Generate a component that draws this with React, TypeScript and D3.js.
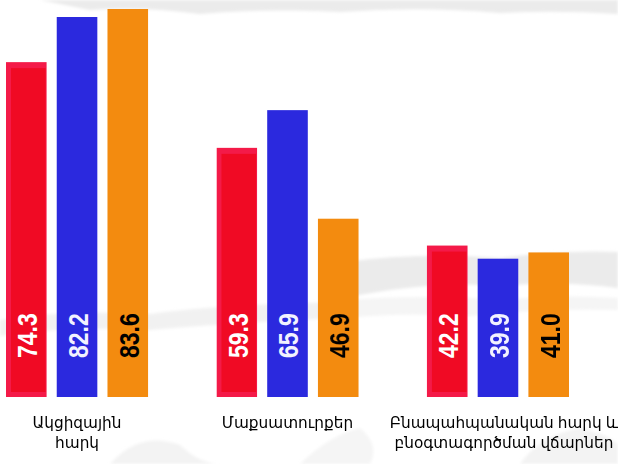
import React from "react";
import * as d3 from "d3";

const categories = ["Ակցիզային հարկ", "Մաքսատուրքեր", "Բնապահպանական հարկ և բնօգտագործման վճարներ"];
const categoryLines = [
  ["Ակցիզային", "հարկ"],
  ["Մաքսատուրքեր"],
  ["Բնապահպանական հարկ և", "բնօգտագործման վճարներ"],
];
const seriesKeys = ["s1", "s2", "s3"];
const series1 = [74.3, 59.3, 42.2];
const series2 = [82.2, 65.9, 39.9];
const series3 = [83.6, 46.9, 41.0];
const seriesValues = [series1, series2, series3];

const W = 618;
const H = 464;
const baseY = 397;
const topY = 9;

const colors = ["#f00a24", "#2b29de", "#f38b0f"];
const labelColors = ["#ffffff", "#f2f2ff", "#000000"];

export default function App() {
  const x0 = d3.scaleBand().domain(categories).range([6, 569]).paddingInner(0.325).paddingOuter(0);
  const x1 = d3.scaleBand().domain(seriesKeys).range([0, x0.bandwidth()]).paddingInner(0.2);
  const y = d3.scaleLinear().domain([15.7, 83.6]).range([baseY, topY]);

  const tex = "#ebebeb";

  return (
    <svg width={W} height={H} style={{ position: "absolute", left: 0, top: 0, background: "#fff" }}>
      <defs>
        <filter id="soft" x="-10%" y="-50%" width="120%" height="200%">
          <feGaussianBlur stdDeviation="1.6" />
        </filter>
      </defs>
      <g filter="url(#soft)" fill={tex} stroke="none">
        <path d="M40,0 L618,0 L618,14 Q560,10 500,13 Q420,6 340,12 Q260,8 200,14 Q140,6 90,10 Q60,4 40,0 Z" />
        <path d="M345,262 Q420,252 500,258 Q560,250 618,252 L618,288 Q560,280 500,286 Q430,280 345,298 Z" />
        <path d="M0,320 Q60,310 150,314 Q220,304 345,302 L345,318 Q240,322 150,330 Q70,326 0,336 Z" opacity={0.7} />
        <path d="M345,300 Q430,294 500,300 Q560,294 618,298 L618,310 Q540,308 470,316 Q400,312 345,318 Z" opacity={0.5} />
        <path d="M110,464 Q140,430 180,445 Q200,464 220,464 Z" opacity={0.6} />
        <path d="M300,464 Q330,435 360,428 Q380,445 370,464 Z" opacity={0.5} />
        <path d="M520,464 Q540,435 580,428 Q610,435 618,445 L618,464 Z" opacity={0.6} />
      </g>
      {categories.map((cat, gi) => (
        <g key={cat} transform={`translate(${x0(cat)},0)`}>
          {seriesKeys.map((k, si) => {
            const v = seriesValues[si][gi];
            const bx = x1(k) as number;
            const bw = x1.bandwidth();
            const by = y(v);
            const bh = baseY - by;
            return (
              <g key={k}>
                {si === 0 ? (
                  <>
                    <rect x={bx} y={by} width={bw} height={bh} fill="#f41a48" />
                    <rect x={bx + 5} y={by + 6} width={bw - 6} height={bh - 11} fill={colors[0]} />
                  </>
                ) : (
                  <rect x={bx} y={by} width={bw} height={bh} fill={colors[si]} />
                )}
                <text
                  transform={`translate(${bx + bw / 2 + 1},${baseY - 39}) rotate(-90) scale(1,1.22)`}
                  textAnchor="start"
                  dominantBaseline="central"
                  fontFamily="'Liberation Sans', Arial, sans-serif"
                  fontWeight="bold"
                  fontSize={23}
                  fill={labelColors[si]}
                >
                  {v.toFixed(1)}
                </text>
              </g>
            );
          })}
          {categoryLines[gi].map((line, li) => (
            <text
              key={li}
              x={x0.bandwidth() / 2 + (gi === 2 ? 6 : 0)}
              y={428 + li * 20}
              textAnchor="middle"
              fontFamily="'Noto Sans', 'DejaVu Sans', sans-serif"
              fontSize={15.3}
              fill="#000"
            >
              {line}
            </text>
          ))}
        </g>
      ))}
    </svg>
  );
}
